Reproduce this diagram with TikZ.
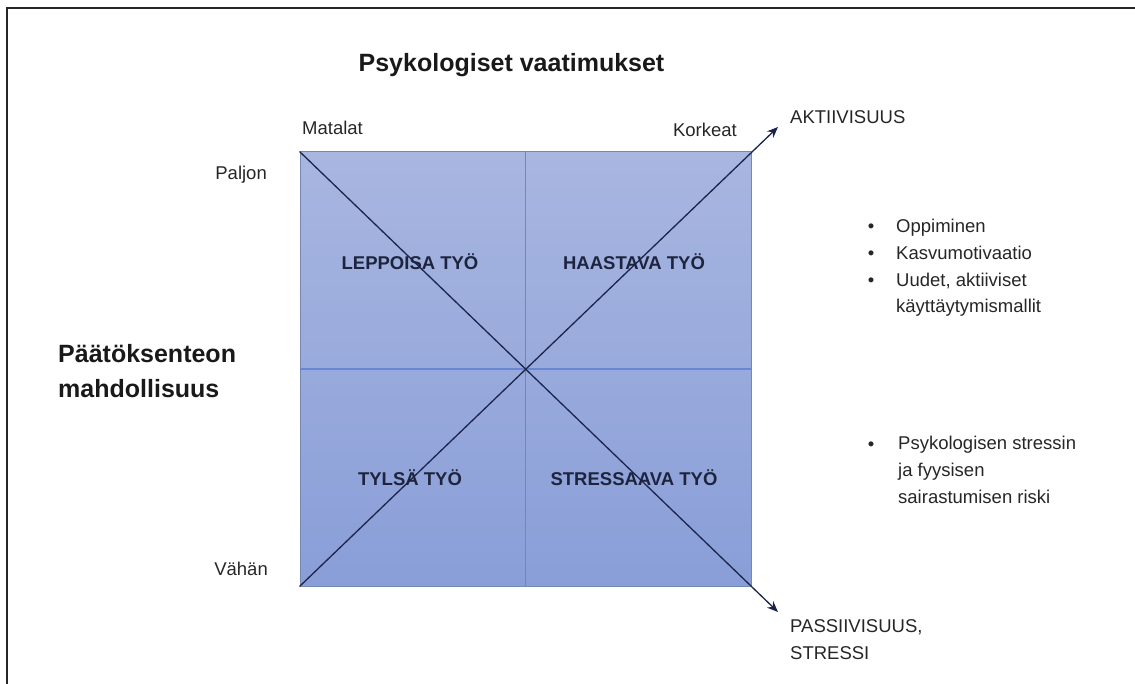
\documentclass[tikz,border=0pt]{standalone}
\usepackage{fontspec}
\setmainfont{Liberation Sans}
\usetikzlibrary{arrows.meta}
\usetikzlibrary{calc}

\definecolor{boxtop}{RGB}{168,182,224}
\definecolor{boxbot}{RGB}{137,158,216}
\definecolor{boxedge}{RGB}{118,136,178}
\definecolor{midline}{RGB}{104,134,212}
\definecolor{diagline}{RGB}{28,36,78}
\definecolor{quadtext}{RGB}{30,36,62}
\definecolor{plaintext}{RGB}{38,38,38}

\tikzset{
  lbl/.style={text=plaintext,inner sep=0pt,font=\fontsize{18.5}{26.7}\selectfont},
  heading/.style={text=black!90,inner sep=0pt,font=\fontsize{25}{35}\selectfont\bfseries},
  quad/.style={text=quadtext,inner sep=0pt,font=\fontsize{18.5}{22}\selectfont\bfseries},
  axis/.style={-{Stealth[length=11pt,width=9pt]},diagline,line width=1.3pt}
}

\begin{document}
\begin{tikzpicture}[x=1pt,y=-1pt]
\useasboundingbox (0,0) rectangle (1135,684);
\draw[line width=2.5pt,black!85] (7,684) -- (7,8) -- (1135,8);
\node[draw=boxedge,line width=1pt,top color=boxtop,bottom color=boxbot,minimum width=451pt,minimum height=434pt,inner sep=0pt] (box) at (525.5,369) {};
\draw[midline,line width=1.8pt] (box.north) -- (box.south) (box.west) -- (box.east);
\coordinate (aktiv) at (778,127);
\coordinate (passiv) at (778,612);
\draw[axis] (box.south west) -- (aktiv);
\draw[axis] (box.north west) -- (passiv);
% nelikentta
\node[quad] (leppoisa) at (410,262) {LEPPOISA TYÖ};
\node[quad] (haastava) at (634,262) {HAASTAVA TYÖ};
\node[quad] (tylsa) at (410,478) {TYLSÄ TYÖ};
\node[quad] (stressaava) at (634,478) {STRESSAAVA TYÖ};
% akselit
\node[heading,anchor=base] (psyk) at (511.5,72) {Psykologiset vaatimukset};
\node[heading,anchor=base west,align=left] (paatos) at (58,397) {Päätöksenteon\\mahdollisuus};
\node[lbl,anchor=base west] (matalat) at (302,135) {Matalat};
\node[lbl,anchor=base east] (korkeat) at (737,137) {Korkeat};
\node[lbl,anchor=base east] (paljon) at (267,180) {Paljon};
\node[lbl,anchor=base east] (vahan) at (268,575) {Vähän};
\node[lbl,anchor=base west] (aktiivisuus) at (790,124) {AKTIIVISUUS};
\node[lbl,anchor=base west,align=left] (passiivisuus) at (790,659) {PASSIIVISUUS,\\STRESSI};
% luettelot
\node[lbl,anchor=base west,align=left] (hyvat) at (896,313) {Oppiminen\\Kasvumotivaatio\\Uudet, aktiiviset\\käyttäytymismallit};
\node[lbl,anchor=base west,align=left] (riski) at (898,503) {Psykologisen stressin\\ja fyysisen\\sairastumisen riski};
\foreach \y in {233,260,287,450} \node[lbl,anchor=base] (b\y) at (871,\y) {\textbullet};
\end{tikzpicture}
\end{document}
